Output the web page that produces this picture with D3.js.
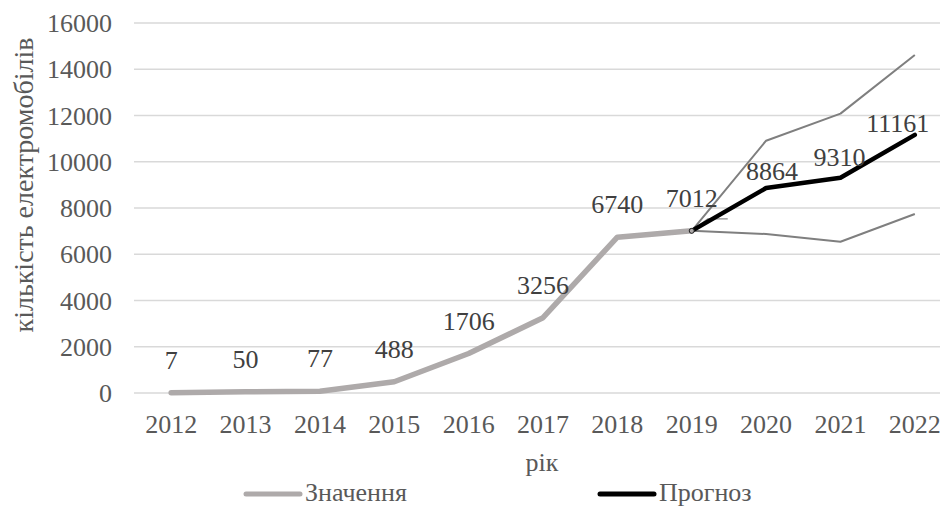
<!DOCTYPE html>
<html lang="uk">
<head>
    <meta charset="UTF-8">
    <title>Кількість електромобілів</title>
    <script src="https://d3js.org/d3.v7.min.js"></script>
    <style>
        body { margin: 0; padding: 0; overflow: hidden; background: #fff; }
        .grid line { stroke: #d9d9d9; stroke-width: 1.5; }
    </style>
</head>
<body>
    <svg id="chart" width="940" height="506"></svg>

    <script>
        // Years on the x axis
        const years = ["2012", "2013", "2014", "2015", "2016", "2017", "2018", "2019", "2020", "2021", "2022"];
        // Actual values 2012-2019
        const actualYears = ["2012", "2013", "2014", "2015", "2016", "2017", "2018", "2019"];
        const actual = [7, 50, 77, 488, 1706, 3256, 6740, 7012];
        // Forecast 2019-2022 with upper / lower confidence bounds
        const forecastYears = ["2019", "2020", "2021", "2022"];
        const forecast = [7012, 8864, 9310, 11161];
        const upperBound = [7012, 10910, 12080, 14616];
        const lowerBound = [7012, 6876, 6543, 7740];
        const yTicks = [0, 2000, 4000, 6000, 8000, 10000, 12000, 14000, 16000];

        const FONT = '"Liberation Serif"';
        const svg = d3.select("#chart");

        // helper so every text gets the serif font inline
        const txt = (sel, color, size) => sel
            .style("font-family", FONT)
            .style("font-size", (size || 26) + "px")
            .attr("fill", color || "#595959");

        const x = d3.scaleBand().domain(years).range([134, 952]).padding(0);
        const cx = d => x(d) + x.bandwidth() / 2;
        const y = d3.scaleLinear().domain([0, 16000]).range([393, 23]);

        // gridlines
        svg.append("g").attr("class", "grid")
            .selectAll("line").data(yTicks).enter().append("line")
            .attr("x1", 134).attr("x2", 952)
            .attr("y1", d => y(d)).attr("y2", d => y(d));

        // y tick labels
        txt(svg.append("g").selectAll("text").data(yTicks).enter().append("text")
            .attr("x", 112).attr("y", d => y(d)).attr("dy", "0.35em")
            .attr("text-anchor", "end")
            .text(d => d));

        // x tick labels
        txt(svg.append("g").selectAll("text").data(years).enter().append("text")
            .attr("x", d => cx(d)).attr("y", 433)
            .attr("text-anchor", "middle")
            .text(d => d));

        // axis titles
        txt(svg.append("text")
            .attr("x", 542).attr("y", 471).attr("text-anchor", "middle")
            .text("рік"));
        txt(svg.append("text")
            .attr("transform", "translate(33,185) rotate(-90)")
            .attr("text-anchor", "middle")
            .text("кількість електромобілів"), "#595959", 28);

        const line = d3.line().x(d => cx(d[0])).y(d => y(d[1]));
        const zipF = arr => forecastYears.map((yr, i) => [yr, arr[i]]);

        // confidence bounds
        [upperBound, lowerBound].forEach(b => {
            svg.append("path").datum(zipF(b))
                .attr("d", line).attr("fill", "none")
                .attr("stroke", "#7f7f7f").attr("stroke-width", 2)
                .attr("stroke-linejoin", "round");
        });

        // actual values
        svg.append("path").datum(actualYears.map((yr, i) => [yr, actual[i]]))
            .attr("d", line).attr("fill", "none")
            .attr("stroke", "#aeaaaa").attr("stroke-width", 5.5)
            .attr("stroke-linejoin", "round").attr("stroke-linecap", "round");

        // leader line of the 7012 label
        svg.append("path")
            .attr("d", `M${cx("2019")},${y(7012)} L${cx("2019") + 16},${y(7012) - 12} H${cx("2019") + 36}`)
            .attr("fill", "none").attr("stroke", "#8c8c8c").attr("stroke-width", 1.2);

        // forecast
        svg.append("path").datum(zipF(forecast))
            .attr("d", line).attr("fill", "none")
            .attr("stroke", "#000").attr("stroke-width", 4.5)
            .attr("stroke-linejoin", "round").attr("stroke-linecap", "round");

        svg.append("circle")
            .attr("cx", cx("2019")).attr("cy", y(7012)).attr("r", 2.5)
            .attr("fill", "#aeaaaa").attr("stroke", "#222").attr("stroke-width", 1);

        // data labels for actual values
        txt(svg.append("g").selectAll("text").data(actualYears).enter().append("text")
            .attr("x", d => cx(d)).attr("y", (d, i) => y(actual[i]) - 24)
            .attr("text-anchor", "middle")
            .text((d, i) => actual[i]), "#404040");

        // data labels for forecast (nudged as in the source chart)
        const nudge = { "2020": [6, -8], "2021": [-1, -12], "2022": [-17, -3] };
        txt(svg.append("g").selectAll("text").data(forecastYears.slice(1)).enter().append("text")
            .attr("x", d => cx(d) + nudge[d][0])
            .attr("y", d => y(forecast[forecastYears.indexOf(d)]) + nudge[d][1])
            .attr("text-anchor", "middle")
            .text(d => forecast[forecastYears.indexOf(d)]), "#404040");

        // legend
        const legend = [
            { name: "Значення", color: "#aeaaaa", x: 246 },
            { name: "Прогноз", color: "#000", x: 600 }
        ];
        const lg = svg.append("g").selectAll("g").data(legend).enter().append("g");
        lg.append("line")
            .attr("x1", d => d.x).attr("x2", d => d.x + 54)
            .attr("y1", 494).attr("y2", 494)
            .attr("stroke", d => d.color).attr("stroke-width", 5)
            .attr("stroke-linecap", "round");
        txt(lg.append("text")
            .attr("x", d => d.x + 59).attr("y", 501)
            .text(d => d.name));
    </script>
</body>
</html>
